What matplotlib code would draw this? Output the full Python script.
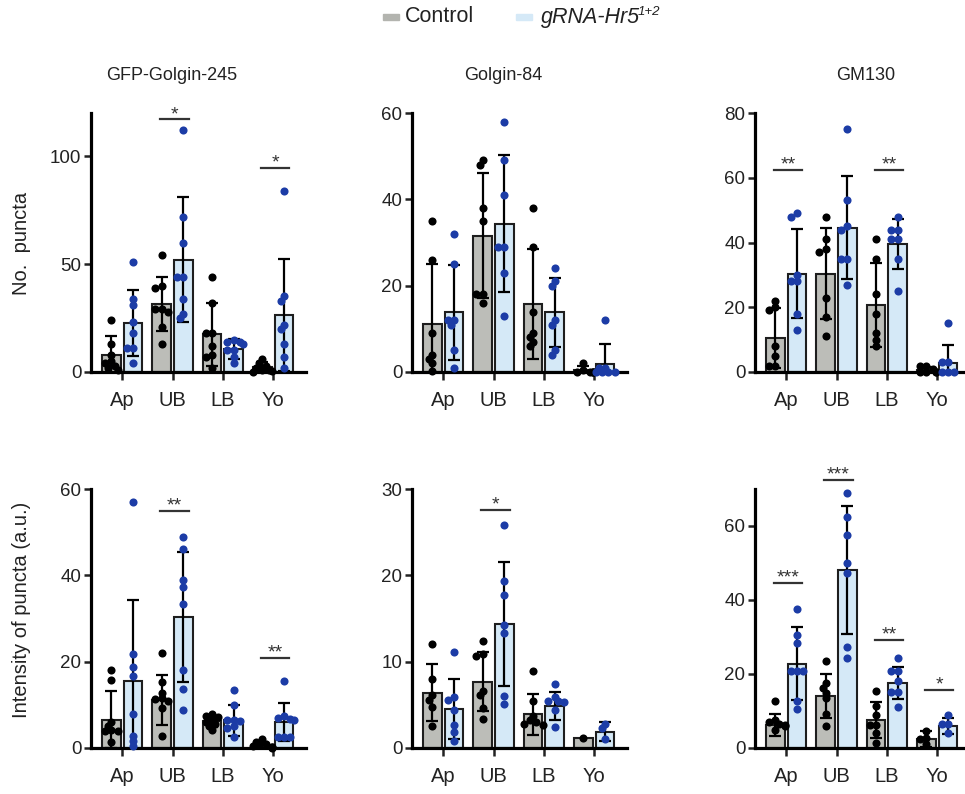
"""Golgi puncta counts and intensities per region, control vs gRNA-Hr5."""
import matplotlib
matplotlib.use("Agg")
import matplotlib.pyplot as plt
import numpy as np
from matplotlib.patches import Rectangle

plt.rcParams["font.family"] = ["Liberation Sans", "DejaVu Sans"]

groups = ["Ap", "UB", "LB", "Yo"]
titles = ["GFP-Golgin-245", "Golgin-84", "GM130"]

# --- No. puncta -------------------------------------------------------------
g245_cnt_ctrl_mean = [8.0, 31.5, 17.5, 2.5]
g245_cnt_ctrl_sd = [8.5, 12.5, 14.6, 2.0]
g245_cnt_ctrl_pts = [[24, 13, 8, 5, 4, 3, 2, 1],
                     [54, 40, 39, 29, 29, 28, 21, 13],
                     [44, 32, 18, 18, 12, 8, 7, 2],
                     [6, 4, 3, 2, 1, 1, 0.5, 0.2]]
g245_cnt_kd_mean = [22.5, 52.0, 10.5, 26.5]
g245_cnt_kd_sd = [15.3, 29.0, 4.6, 26.0]
g245_cnt_kd_pts = [[51, 34, 31, 23, 18, 11, 11, 4],
                   [112, 72, 60, 44, 44, 34, 27, 25],
                   [15, 14, 14, 13, 10, 10, 7, 4],
                   [84, 35, 33, 22, 20, 13, 7, 2]]
g245_cnt_sig = [(1, 117, "*"), (3, 94.5, "*")]

g84_cnt_ctrl_mean = [11.1, 31.6, 15.7, 0.5]
g84_cnt_ctrl_sd = [13.9, 14.5, 12.8, 0.8]
g84_cnt_ctrl_pts = [[35, 26, 9, 4, 3, 2, 0.2],
                    [49, 48, 38, 35, 18, 18, 16],
                    [38, 29, 14, 9, 8, 7, 6],
                    [2, 0.5, 0, 0, 0, 0, 0]]
g84_cnt_kd_mean = [13.8, 34.4, 13.8, 1.9]
g84_cnt_kd_sd = [11.1, 15.8, 8.0, 4.6]
g84_cnt_kd_pts = [[32, 25, 12, 12, 11, 5, 1],
                  [58, 49, 41, 29, 29, 23, 13],
                  [24, 21, 20, 12, 11, 5, 4],
                  [12, 1, 1, 0, 0, 0, 0]]
g84_cnt_sig = []

gm130_cnt_ctrl_mean = [10.6, 30.4, 20.8, 0.6]
gm130_cnt_ctrl_sd = [9.3, 14.1, 13.0, 0.9]
gm130_cnt_ctrl_pts = [[22, 20, 19, 8, 5, 2, 2],
                      [48, 41, 38, 37, 23, 17, 11],
                      [41, 35, 24, 18, 12, 10, 8],
                      [2, 2, 1, 0, 0, 0, 0]]
gm130_cnt_kd_mean = [30.4, 44.6, 39.5, 2.7]
gm130_cnt_kd_sd = [13.8, 15.8, 7.7, 5.7]
gm130_cnt_kd_pts = [[49, 48, 30, 28, 28, 18, 13],
                    [75, 53, 45, 44, 35, 35, 27],
                    [48, 44, 44, 41, 41, 35, 25],
                    [15, 3, 3, 0, 0, 0]]
gm130_cnt_sig = [(0, 62.3, "**"), (2, 62.3, "**")]

# --- Intensity of puncta ----------------------------------------------------
g245_int_ctrl_mean = [6.6, 11.1, 6.2, 0.8]
g245_int_ctrl_sd = [6.5, 5.8, 1.3, 0.7]
g245_int_ctrl_pts = [[18, 15.7, 6, 5, 4.1, 4, 3.9, 1.3],
                     [22, 15.2, 12.8, 11.5, 11.3, 10.8, 9.3, 2.8],
                     [7.8, 7.5, 7.2, 6.5, 6, 5.5, 5, 4.1],
                     [2, 1.5, 1, 0.6, 0.4, 0.3, 0.2, 0.1]]
g245_int_kd_mean = [15.6, 30.4, 6.4, 6.1]
g245_int_kd_sd = [18.8, 15.1, 3.6, 4.4]
g245_int_kd_pts = [[57, 21.7, 18.7, 16.7, 7.8, 2.8, 1.6, 0.4],
                   [48.8, 46, 38.9, 37.2, 33.3, 18.1, 13.7, 8.8],
                   [13.4, 10, 6.6, 6.4, 6.2, 5.2, 4.7, 2.6],
                   [15.6, 7.5, 7, 6.8, 6.5, 2.6, 2.6, 2.6]]
g245_int_sig = [(1, 55, "**"), (3, 20.8, "**")]

g84_int_ctrl_mean = [6.4, 7.7, 3.9, 1.2]
g84_int_ctrl_sd = [3.3, 3.4, 2.4, 0.0]
g84_int_ctrl_pts = [[12.1, 8, 6.1, 5.6, 4.7, 2.5],
                    [12.4, 10.9, 10.7, 6.6, 6.1, 4.6, 3.4],
                    [8.9, 5.4, 3.7, 3.2, 3.0, 2.8, 2.7],
                    [1.2]]
g84_int_kd_mean = [4.5, 14.4, 4.9, 1.9]
g84_int_kd_sd = [3.5, 7.2, 1.6, 1.1]
g84_int_kd_pts = [[11.1, 5.9, 5.6, 4.4, 2.7, 1.8, 0.8],
                  [25.8, 19.3, 17.7, 14.3, 13.3, 6.0, 5.1],
                  [7.4, 5.9, 5.5, 5.4, 5.3, 4.4, 2.4],
                  [2.8, 2.3, 1.1]]
g84_int_sig = [(1, 27.6, "*")]

gm130_int_ctrl_mean = [6.3, 14.0, 7.6, 2.5]
gm130_int_ctrl_sd = [3.0, 6.0, 4.9, 2.1]
gm130_int_ctrl_pts = [[12.7, 7.7, 7.0, 6.5, 6.3, 6.0, 5.0],
                      [23.5, 17.5, 16.3, 15.0, 13.5, 9.3, 6.0],
                      [15.4, 11.3, 9.0, 6.3, 6.3, 4.0, 1.4],
                      [4.6, 2.7, 2.5, 1.0]]
gm130_int_kd_mean = [22.8, 48.1, 17.6, 5.9]
gm130_int_kd_sd = [9.9, 17.2, 4.4, 2.2]
gm130_int_kd_pts = [[37.6, 30.6, 28.4, 20.8, 20.8, 20.8, 12.8, 10.5],
                    [69, 62.3, 57.7, 50, 47.3, 27.4, 24.3],
                    [24.4, 20.8, 20.8, 18.1, 15.1, 15.1, 11.1],
                    [9, 6.4, 6.4, 4]]
gm130_int_sig = [(0, 44.5, "***"), (1, 72.4, "***"), (2, 29.2, "**"), (3, 15.8, "*")]

panels = [
    (g245_cnt_ctrl_mean, g245_cnt_ctrl_sd, g245_cnt_ctrl_pts,
     g245_cnt_kd_mean, g245_cnt_kd_sd, g245_cnt_kd_pts, g245_cnt_sig, 120, 50),
    (g84_cnt_ctrl_mean, g84_cnt_ctrl_sd, g84_cnt_ctrl_pts,
     g84_cnt_kd_mean, g84_cnt_kd_sd, g84_cnt_kd_pts, g84_cnt_sig, 60, 20),
    (gm130_cnt_ctrl_mean, gm130_cnt_ctrl_sd, gm130_cnt_ctrl_pts,
     gm130_cnt_kd_mean, gm130_cnt_kd_sd, gm130_cnt_kd_pts, gm130_cnt_sig, 80, 20),
    (g245_int_ctrl_mean, g245_int_ctrl_sd, g245_int_ctrl_pts,
     g245_int_kd_mean, g245_int_kd_sd, g245_int_kd_pts, g245_int_sig, 60, 20),
    (g84_int_ctrl_mean, g84_int_ctrl_sd, g84_int_ctrl_pts,
     g84_int_kd_mean, g84_int_kd_sd, g84_int_kd_pts, g84_int_sig, 30, 10),
    (gm130_int_ctrl_mean, gm130_int_ctrl_sd, gm130_int_ctrl_pts,
     gm130_int_kd_mean, gm130_int_kd_sd, gm130_int_kd_pts, gm130_int_sig, 70, 20),
]

ctrl_fill = "#bcbdb8"
kd_fill = "#d5e9f7"
kd_dot = "#1c3ca6"
edge = "#1e1e1e"
ink = "#222222"

W, H, DPI = 965, 794, 100
fig = plt.figure(figsize=(W / DPI, H / DPI), dpi=DPI)

lefts = [91, 412, 755]
rows = [(113, 372), (489, 748)]
ax_w = 215
xlim = (-0.62, 3.65)
off, bw = 0.215, 0.37


def swarm(vals, ypx, xpx, d=7.0):
    """Simple beeswarm: shift points sideways until they barely overlap."""
    placed, offs = [], []
    for v in vals:
        y = v * ypx
        for k in [0, -1, 1, -2, 2, -3, 3]:
            x = k * d * 0.45
            if all((x - a) ** 2 + (y - b) ** 2 >= (d * 0.7) ** 2 for a, b in placed):
                break
        placed.append((x, y))
        offs.append(x / xpx)
    return offs


for i, (cm, cs, cp, km, ks, kp, sig, ymax, ystep) in enumerate(panels):
    top, bot = rows[i // 3]
    left = lefts[i % 3]
    ax = fig.add_axes([left / W, 1 - bot / H, ax_w / W, (bot - top) / H])
    x = np.arange(len(groups))
    ypx = (bot - top) / ymax
    xpx = ax_w / (xlim[1] - xlim[0])

    for pos, mean, sd, pts, fill, dot in [(x - off, cm, cs, cp, ctrl_fill, "black"),
                                           (x + off, km, ks, kp, kd_fill, kd_dot)]:
        ax.bar(pos, mean, width=bw, color=fill, edgecolor=edge, linewidth=1.5, zorder=1)
        sd_arr = np.array(sd)
        has = sd_arr > 0
        ax.errorbar(pos[has], np.array(mean)[has], yerr=sd_arr[has], fmt="none",
                    ecolor="black", elinewidth=1.6, capsize=4.5, capthick=1.6, zorder=2)
        for p, vals in zip(pos, pts):
            xs = p + np.array(swarm(vals, ypx, xpx))
            ax.scatter(xs, vals, s=34, color=dot, linewidths=0, zorder=3, clip_on=False)

    for g, yv, label in sig:
        ax.plot([g - 0.24, g + 0.32], [yv, yv], color="#333333", lw=1.6, clip_on=False)
        ax.annotate(label, (g + 0.04, yv), xytext=(0, 5), textcoords="offset pixels",
                    ha="center", va="center", fontsize=14, color="#333333",
                    annotation_clip=False)

    ax.set_xlim(*xlim)
    ax.set_ylim(0, ymax)
    ax.set_yticks(np.arange(0, ymax + 0.1, ystep))
    ax.set_xticks(x)
    ax.set_xticklabels(groups, fontsize=14.5)
    ax.tick_params(axis="y", labelsize=13.5, direction="out", length=5, width=1.8,
                   colors=ink, pad=2)
    ax.tick_params(axis="x", direction="out", length=6, width=1.8, pad=8, colors=ink)
    for s in ["top", "right"]:
        ax.spines[s].set_visible(False)
    for s in ["left", "bottom"]:
        ax.spines[s].set_linewidth(2.3)
    ax.patch.set_visible(False)

# titles, axis labels and legend
title_x = [172, 503, 866]
for tx, t in zip(title_x, titles):
    fig.text(tx / W, 1 - 75 / H, t, ha="center", va="center", fontsize=13, color=ink)
fig.text(22 / W, 1 - 243 / H, "No.  puncta", rotation=90, ha="center", va="center",
         fontsize=14.5, color=ink)
fig.text(22 / W, 1 - 610 / H, "Intensity of puncta (a.u.)", rotation=90, ha="center",
         va="center", fontsize=14.5, color=ink)

fig.add_artist(Rectangle((383 / W, 1 - 20 / H), 16 / W, 6 / H, color="#b3b4af",
                         transform=fig.transFigure))
fig.text(405 / W, 1 - 17 / H, "Control", ha="left", va="center", fontsize=15.5, color=ink)
fig.add_artist(Rectangle((516 / W, 1 - 20 / H), 16 / W, 6 / H, color="#d5e9f7",
                         transform=fig.transFigure))
fig.text(541 / W, 1 - 17 / H, "gRNA-Hr5", ha="left", va="center", fontsize=15.5,
         style="italic", color=ink)
fig.text(638 / W, 1 - 12 / H, "1+2", ha="left", va="center", fontsize=9.5,
         style="italic", color=ink)

fig.savefig("out.png", dpi=DPI)
